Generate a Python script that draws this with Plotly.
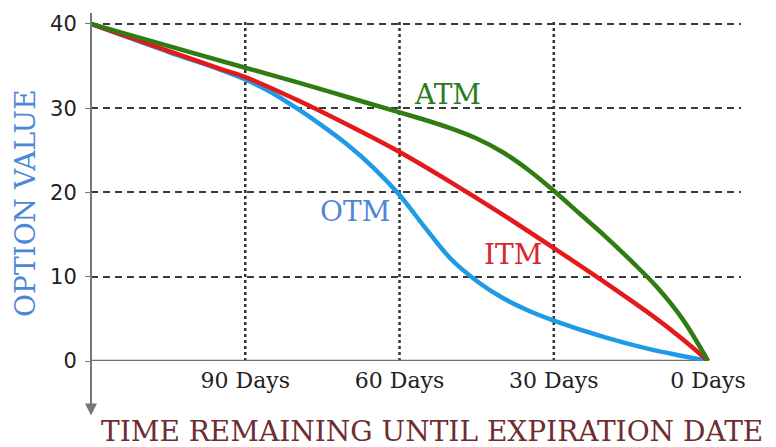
import plotly.graph_objects as go

# Days remaining until expiration and option value for each moneyness curve
atm_days = [120, 105, 90, 80, 70, 60, 55, 50, 45, 40, 35, 30, 25, 20, 15, 10, 5, 0]
atm_value = [40, 37.4, 34.8, 33.1, 31.3, 29.5, 28.6, 27.6, 26.4, 24.8, 22.7, 20.2,
             17.5, 14.8, 11.9, 8.8, 5.0, 0]

itm_days = [120, 105, 95, 90, 80, 70, 60, 50, 40, 30, 20, 10, 5, 0]
itm_value = [40, 36.8, 34.7, 33.7, 31.0, 28.0, 24.8, 21.2, 17.4, 13.4, 9.3, 5.0, 2.6, 0]

otm_days = [120, 105, 95, 90, 85, 80, 75, 70, 65, 60, 55, 50, 45, 40, 35, 30, 20, 12, 5, 0]
otm_value = [40, 36.7, 34.6, 33.4, 31.9, 30.0, 27.9, 25.6, 22.9, 19.7, 15.8, 12.1, 9.5,
             7.5, 6.0, 4.8, 2.8, 1.5, 0.6, 0]

tick_days = [90, 60, 30, 0]
tick_text = ["90 Days", "60 Days", "30 Days", "0 Days"]
grid_days = [90, 60, 30]
y_ticks = [0, 10, 20, 30, 40]

GREEN = "#2f7d12"
RED = "#e3191b"
BLUE = "#1f9be6"
SERIF = "DejaVu Serif"

fig = go.Figure()

# vertical dotted guides at 90/60/30 days
for d in grid_days:
    fig.add_shape(type="line", xref="x", yref="paper", x0=d, x1=d, y0=0, y1=1,
                  line=dict(color="#333333", width=2.5, dash="dot"), layer="below")

# solid base line along zero value
fig.add_shape(type="line", xref="x", yref="y", x0=121, x1=0, y0=0, y1=0,
              line=dict(color="#6f6f6f", width=2.5), layer="below")

for days, vals, col in [(otm_days, otm_value, BLUE),
                        (itm_days, itm_value, RED),
                        (atm_days, atm_value, GREEN)]:
    fig.add_trace(go.Scatter(x=days, y=vals, mode="lines",
                             line=dict(color=col, width=4.5, shape="spline", smoothing=1.0),
                             hoverinfo="skip", showlegend=False))

# curve labels
for txt, xd, yv, col in [("ATM", 50.6, 31.6, "#2a7a22"),
                         ("OTM", 68.7, 17.7, "#4f86d6"),
                         ("ITM", 37.9, 12.6, "#d8262a")]:
    fig.add_annotation(x=xd, y=yv, text=txt, showarrow=False,
                       font=dict(family=SERIF, size=28, color=col))

# downward arrow along the value axis
fig.add_annotation(x=120, y=-0.16, xref="x", yref="paper",
                   ax=0, ay=-404, axref="pixel", ayref="pixel",
                   text="", showarrow=True, arrowhead=2, arrowsize=1.2,
                   arrowwidth=2, arrowcolor="#777777")

# axis titles
fig.add_annotation(xref="paper", yref="paper", x=-0.1, y=0.465,
                   xanchor="center", yanchor="middle",
                   text="OPTION VALUE", textangle=-90, showarrow=False,
                   font=dict(family=SERIF, size=28, color="#4d88d6"))
fig.add_annotation(xref="paper", yref="paper", x=0.525, y=-0.206,
                   xanchor="center", yanchor="middle",
                   text="TIME REMAINING UNTIL EXPIRATION DATE", showarrow=False,
                   font=dict(family=SERIF, size=28, color="#6e2d30"))

fig.update_layout(
    width=776, height=447,
    margin=dict(l=91, r=35, t=17, b=86),
    paper_bgcolor="white", plot_bgcolor="white",
    xaxis=dict(range=[120, -6.4], tickvals=tick_days, ticktext=tick_text,
               showgrid=False, zeroline=False, showline=False,
               tickfont=dict(family=SERIF, size=22, color="#222222"),
               ticks="", ticklabelstandoff=4),
    yaxis=dict(range=[0, 40.35], tickvals=y_ticks, showgrid=True,
               gridcolor="#3a3a3a", gridwidth=1.5, griddash="7px,5px",
               zeroline=False, showline=False,
               ticks="outside", ticklen=5, tickcolor="#777777",
               tickfont=dict(family="DejaVu Sans", size=21, color="#222222"),
               ticklabelstandoff=4),
)

fig.write_html("out.html")
